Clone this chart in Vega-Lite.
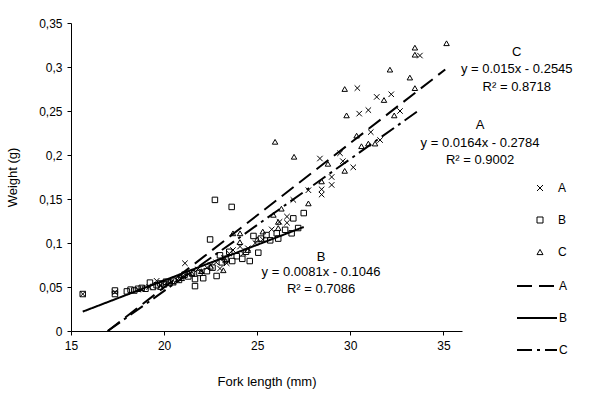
{
  "$schema": "https://vega.github.io/schema/vega-lite/v6.json",
  "width": 391,
  "height": 308,
  "autosize": "none",
  "padding": {"left": 71, "top": 23, "right": 138, "bottom": 68},
  "background": "white",
  "config": {
    "view": {"stroke": null},
    "font": "Liberation Sans",
    "axis": {
      "grid": false,
      "domainColor": "black",
      "tickColor": "black",
      "tickSize": 4,
      "labelColor": "black",
      "labelFontSize": 12,
      "labelFlush": false,
      "labelOverlap": false,
      "titleColor": "black",
      "titleFontSize": 13,
      "titleFontWeight": "normal"
    },
    "legend": {"labelColor": "black", "labelFontSize": 12, "labelFont": "Liberation Sans"}
  },
  "datasets": {
    "points": [
      {"s": "A", "x": 15.63, "y": 0.042}, {"s": "A", "x": 17.36, "y": 0.044}, {"s": "A", "x": 18.6, "y": 0.047},
      {"s": "A", "x": 19.2, "y": 0.05}, {"s": "A", "x": 19.6, "y": 0.057}, {"s": "A", "x": 19.8, "y": 0.052},
      {"s": "A", "x": 20.1, "y": 0.054}, {"s": "A", "x": 20.4, "y": 0.056}, {"s": "A", "x": 20.7, "y": 0.058},
      {"s": "A", "x": 21.0, "y": 0.062}, {"s": "A", "x": 21.12, "y": 0.077}, {"s": "A", "x": 21.4, "y": 0.066},
      {"s": "A", "x": 21.8, "y": 0.07}, {"s": "A", "x": 22.0, "y": 0.068}, {"s": "A", "x": 22.3, "y": 0.072},
      {"s": "A", "x": 22.5, "y": 0.075}, {"s": "A", "x": 22.8, "y": 0.078}, {"s": "A", "x": 23.0, "y": 0.071},
      {"s": "A", "x": 23.2, "y": 0.083}, {"s": "A", "x": 23.36, "y": 0.077}, {"s": "A", "x": 23.5, "y": 0.088},
      {"s": "A", "x": 23.7, "y": 0.092}, {"s": "A", "x": 24.08, "y": 0.096}, {"s": "A", "x": 24.25, "y": 0.088},
      {"s": "A", "x": 24.5, "y": 0.094}, {"s": "A", "x": 24.9, "y": 0.1}, {"s": "A", "x": 25.3, "y": 0.104},
      {"s": "A", "x": 25.78, "y": 0.1155}, {"s": "A", "x": 26.2, "y": 0.124}, {"s": "A", "x": 26.6, "y": 0.123},
      {"s": "A", "x": 26.6, "y": 0.13}, {"s": "A", "x": 26.94, "y": 0.149}, {"s": "A", "x": 27.75, "y": 0.16},
      {"s": "A", "x": 28.37, "y": 0.196}, {"s": "A", "x": 28.46, "y": 0.161}, {"s": "A", "x": 28.46, "y": 0.155},
      {"s": "A", "x": 29.0, "y": 0.166}, {"s": "A", "x": 29.0, "y": 0.175}, {"s": "A", "x": 29.45, "y": 0.202},
      {"s": "A", "x": 29.6, "y": 0.193}, {"s": "A", "x": 30.16, "y": 0.186}, {"s": "A", "x": 30.38, "y": 0.276},
      {"s": "A", "x": 30.48, "y": 0.247}, {"s": "A", "x": 30.97, "y": 0.251}, {"s": "A", "x": 31.1, "y": 0.226},
      {"s": "A", "x": 31.42, "y": 0.266}, {"s": "A", "x": 31.6, "y": 0.217}, {"s": "A", "x": 32.2, "y": 0.269},
      {"s": "A", "x": 32.67, "y": 0.25}, {"s": "A", "x": 33.74, "y": 0.313},
      {"s": "B", "x": 15.63, "y": 0.042}, {"s": "B", "x": 17.36, "y": 0.046}, {"s": "B", "x": 17.36, "y": 0.042},
      {"s": "B", "x": 18.0, "y": 0.045}, {"s": "B", "x": 18.2, "y": 0.047}, {"s": "B", "x": 18.4, "y": 0.046},
      {"s": "B", "x": 18.6, "y": 0.048}, {"s": "B", "x": 18.8, "y": 0.049}, {"s": "B", "x": 19.0, "y": 0.048},
      {"s": "B", "x": 19.24, "y": 0.055}, {"s": "B", "x": 19.4, "y": 0.05}, {"s": "B", "x": 19.6, "y": 0.052},
      {"s": "B", "x": 19.8, "y": 0.054}, {"s": "B", "x": 20.0, "y": 0.053}, {"s": "B", "x": 20.1, "y": 0.056},
      {"s": "B", "x": 20.3, "y": 0.055}, {"s": "B", "x": 20.5, "y": 0.057}, {"s": "B", "x": 20.8, "y": 0.058},
      {"s": "B", "x": 21.1, "y": 0.064}, {"s": "B", "x": 21.3, "y": 0.062}, {"s": "B", "x": 21.5, "y": 0.066},
      {"s": "B", "x": 21.66, "y": 0.059}, {"s": "B", "x": 21.66, "y": 0.051}, {"s": "B", "x": 21.9, "y": 0.066},
      {"s": "B", "x": 22.1, "y": 0.06}, {"s": "B", "x": 22.3, "y": 0.068}, {"s": "B", "x": 22.47, "y": 0.104},
      {"s": "B", "x": 22.6, "y": 0.072}, {"s": "B", "x": 22.73, "y": 0.149}, {"s": "B", "x": 22.82, "y": 0.0625},
      {"s": "B", "x": 23.0, "y": 0.086}, {"s": "B", "x": 23.1, "y": 0.078}, {"s": "B", "x": 23.3, "y": 0.082},
      {"s": "B", "x": 23.5, "y": 0.09}, {"s": "B", "x": 23.63, "y": 0.141}, {"s": "B", "x": 23.66, "y": 0.0795},
      {"s": "B", "x": 23.9, "y": 0.085}, {"s": "B", "x": 24.2, "y": 0.082}, {"s": "B", "x": 24.4, "y": 0.09},
      {"s": "B", "x": 24.6, "y": 0.0795}, {"s": "B", "x": 24.8, "y": 0.108}, {"s": "B", "x": 25.06, "y": 0.089},
      {"s": "B", "x": 25.2, "y": 0.105}, {"s": "B", "x": 25.5, "y": 0.109}, {"s": "B", "x": 25.7, "y": 0.103},
      {"s": "B", "x": 26.05, "y": 0.111}, {"s": "B", "x": 26.13, "y": 0.105}, {"s": "B", "x": 26.5, "y": 0.115},
      {"s": "B", "x": 26.85, "y": 0.111}, {"s": "B", "x": 26.94, "y": 0.128}, {"s": "B", "x": 27.2, "y": 0.117},
      {"s": "B", "x": 27.5, "y": 0.134},
      {"s": "C", "x": 19.8, "y": 0.05}, {"s": "C", "x": 20.5, "y": 0.055}, {"s": "C", "x": 20.95, "y": 0.06},
      {"s": "C", "x": 21.5, "y": 0.065}, {"s": "C", "x": 22.0, "y": 0.068}, {"s": "C", "x": 22.5, "y": 0.073},
      {"s": "C", "x": 23.18, "y": 0.069}, {"s": "C", "x": 23.3, "y": 0.08}, {"s": "C", "x": 23.7, "y": 0.111},
      {"s": "C", "x": 24.07, "y": 0.101}, {"s": "C", "x": 24.08, "y": 0.111}, {"s": "C", "x": 24.5, "y": 0.092},
      {"s": "C", "x": 25.0, "y": 0.104}, {"s": "C", "x": 25.3, "y": 0.113}, {"s": "C", "x": 25.87, "y": 0.132},
      {"s": "C", "x": 25.96, "y": 0.215}, {"s": "C", "x": 26.13, "y": 0.124}, {"s": "C", "x": 26.13, "y": 0.117},
      {"s": "C", "x": 26.3, "y": 0.139}, {"s": "C", "x": 26.98, "y": 0.198}, {"s": "C", "x": 27.75, "y": 0.145},
      {"s": "C", "x": 28.46, "y": 0.17}, {"s": "C", "x": 28.8, "y": 0.19}, {"s": "C", "x": 29.7, "y": 0.182},
      {"s": "C", "x": 29.7, "y": 0.275}, {"s": "C", "x": 29.8, "y": 0.245}, {"s": "C", "x": 30.34, "y": 0.222},
      {"s": "C", "x": 30.6, "y": 0.21}, {"s": "C", "x": 30.97, "y": 0.213}, {"s": "C", "x": 31.33, "y": 0.213},
      {"s": "C", "x": 31.81, "y": 0.2625}, {"s": "C", "x": 32.13, "y": 0.297}, {"s": "C", "x": 32.36, "y": 0.245},
      {"s": "C", "x": 33.2, "y": 0.288}, {"s": "C", "x": 33.47, "y": 0.276}, {"s": "C", "x": 33.47, "y": 0.322},
      {"s": "C", "x": 33.47, "y": 0.314}, {"s": "C", "x": 35.17, "y": 0.327}
    ],
    "lines": [
      {"t": "line A", "x": 16.98, "y": 0}, {"t": "line A", "x": 35.1, "y": 0.2972},
      {"t": "line B", "x": 15.63, "y": 0.022}, {"t": "line B", "x": 27.5, "y": 0.1182},
      {"t": "line C", "x": 16.97, "y": 0}, {"t": "line C", "x": 33.64, "y": 0.2501}
    ],
    "labels": [
      {"x": 38.94, "y": 0.317, "label": "C"},
      {"x": 38.94, "y": 0.2977, "label": "y = 0.015x - 0.2545"},
      {"x": 38.94, "y": 0.2773, "label": "R² = 0.8718"},
      {"x": 36.97, "y": 0.234, "label": "A"},
      {"x": 36.97, "y": 0.2136, "label": "y = 0.0164x - 0.2784"},
      {"x": 36.97, "y": 0.1943, "label": "R² = 0.9002"},
      {"x": 28.43, "y": 0.0844, "label": "B"},
      {"x": 28.43, "y": 0.067, "label": "y = 0.0081x - 0.1046"},
      {"x": 28.43, "y": 0.0477, "label": "R² = 0.7086"}
    ]
  },
  "encoding": {
    "x": {
      "field": "x", "type": "quantitative",
      "scale": {"domain": [15, 36], "nice": false, "zero": false},
      "axis": {"values": [15, 20, 25, 30, 35], "title": "Fork length (mm)", "labelPadding": 5, "titlePadding": 24}
    },
    "y": {
      "field": "y", "type": "quantitative",
      "scale": {"domain": [0, 0.35], "nice": false},
      "axis": {"values": [0, 0.05, 0.1, 0.15, 0.2, 0.25, 0.3, 0.35], "labelExpr": "replace(format(datum.value, '.2~f'), '.', ',')", "title": "Weight (g)", "labelPadding": 5, "titlePadding": 19}
    }
  },
  "layer": [
    {
      "data": {"name": "points"},
      "mark": {"type": "point", "filled": false, "color": "black", "strokeWidth": 1, "size": 30, "opacity": 1},
      "encoding": {
        "shape": {
          "field": "s", "type": "nominal",
          "scale": {"domain": ["A", "B", "C"], "range": ["M-1,-1L1,1M1,-1L-1,1", "square", "triangle-up"]},
          "legend": {"title": null, "orient": "none", "legendX": 463, "legendY": 149, "symbolSize": 36, "symbolStrokeWidth": 1, "symbolStrokeColor": "black", "symbolFillColor": "transparent", "labelOffset": 12, "clipHeight": 32, "rowPadding": 0, "padding": 0}
        }
      }
    },
    {
      "data": {"name": "lines"},
      "mark": {"type": "line", "color": "black", "strokeWidth": 2},
      "encoding": {
        "strokeDash": {
          "field": "t", "type": "nominal",
          "scale": {"domain": ["line A", "line B", "line C"], "range": [[15, 7], [1, 0], [15, 5, 3, 5]]},
          "legend": {"title": null, "orient": "none", "legendX": 445, "legendY": 247, "symbolType": "stroke", "symbolSize": 1600, "symbolStrokeWidth": 2, "symbolStrokeColor": "black", "labelOffset": 1, "clipHeight": 32, "rowPadding": 0, "padding": 0, "labelExpr": "replace(datum.label, 'line ', '')"}
        }
      }
    },
    {
      "data": {"name": "labels"},
      "mark": {"type": "text", "fontSize": 13, "color": "black", "align": "center", "baseline": "middle"},
      "encoding": {"text": {"field": "label"}}
    }
  ]
}
